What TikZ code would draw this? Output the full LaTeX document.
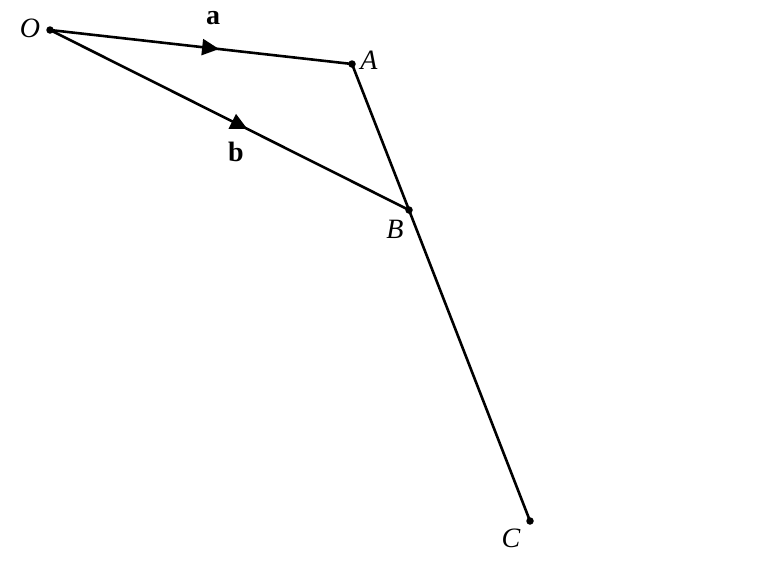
\documentclass[tikz,border=0pt]{standalone}
\usepackage{fontspec}
\setmainfont{Liberation Serif}
\usetikzlibrary{arrows.meta,decorations.markings}
\begin{document}
\begin{tikzpicture}[x=1pt,y=-1pt,
  seg/.style={line width=2.6pt},
  midarrow/.style={postaction={decorate,
     decoration={markings,mark=at position #1 with {\arrow{Triangle[length=17pt,width=16pt]}}}}},
  dotpt/.style={circle,fill=black,inner sep=0pt,minimum size=7.5pt},
  lbl/.style={font=\fontsize{28}{32}\selectfont\itshape,inner sep=0pt},
  vlbl/.style={font=\fontsize{28}{32}\selectfont\bfseries,inner sep=0pt}]
\useasboundingbox (0,0) rectangle (763,568);
\node[dotpt] (O) at (50,30) {};
\node[dotpt] (A) at (352,64) {};
\node[dotpt] (B) at (409,210) {};
\node[dotpt] (C) at (530,521) {};
\draw[seg,midarrow=0.56] (O.center) -- (A.center);
\draw[seg,midarrow=0.55] (O.center) -- (B.center);
\draw[seg] (A.center) -- (B.center) -- (C.center);
\node[lbl] (lO) at (30,28) {O};
\node[lbl] (lA) at (369,60) {A};
\node[lbl] (lB) at (395,229) {B};
\node[lbl] (lC) at (511,538) {C};
\node[vlbl] (la) at (213,18) {a};
\node[vlbl] (lb) at (236,152) {b};
\end{tikzpicture}
\end{document}
